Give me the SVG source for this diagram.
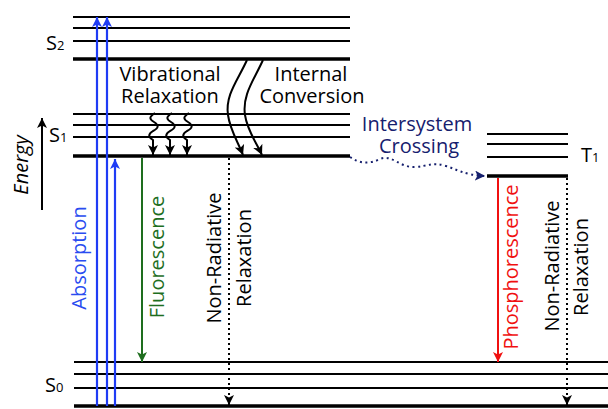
<svg xmlns="http://www.w3.org/2000/svg" width="608" height="409" viewBox="0 0 608 409">
  <style>
    .lvl { stroke: #000; stroke-width: 2; }
    .lvl0 { stroke: #000; stroke-width: 3.5; }
    .t { font-family: "Open Sans", "Liberation Sans", sans-serif; font-size: 20px; fill: #000; }
    .lbl { font-family: "Open Sans", "Liberation Sans", sans-serif; font-size: 20px; fill: #000; }
    .sub { font-size: 13px; }
    .abs { stroke: #1f3cf5; stroke-width: 2.2; fill: none; }
    .fl { stroke: #1e6e1e; stroke-width: 2; fill: none; }
    .ph { stroke: #f01010; stroke-width: 2; fill: none; }
    .nr { stroke: #000; stroke-width: 2; stroke-dasharray: 2 3; fill: none; }
    .wv { stroke: #000; stroke-width: 2; fill: none; }
    .isc { stroke: #16206e; stroke-width: 2; stroke-dasharray: 2 3.5; fill: none; }
  </style>
  <defs>
    <marker id="hBlack" markerUnits="userSpaceOnUse" markerWidth="11" markerHeight="10" refX="10" refY="5" orient="auto">
      <path d="M0,0 L10,5 L0,10 L2.5,5 z" fill="#000"/>
    </marker>
    <marker id="hBlue" markerUnits="userSpaceOnUse" markerWidth="11" markerHeight="10" refX="10" refY="5" orient="auto">
      <path d="M0,0 L10,5 L0,10 L2.5,5 z" fill="#1f3cf5"/>
    </marker>
    <marker id="hGreen" markerUnits="userSpaceOnUse" markerWidth="11" markerHeight="10" refX="10" refY="5" orient="auto">
      <path d="M0,0 L10,5 L0,10 L2.5,5 z" fill="#1e6e1e"/>
    </marker>
    <marker id="hRed" markerUnits="userSpaceOnUse" markerWidth="11" markerHeight="10" refX="10" refY="5" orient="auto">
      <path d="M0,0 L10,5 L0,10 L2.5,5 z" fill="#f01010"/>
    </marker>
    <marker id="hNavy" markerUnits="userSpaceOnUse" markerWidth="11" markerHeight="10" refX="10" refY="5" orient="auto">
      <path d="M0,0 L10,5 L0,10 L2.5,5 z" fill="#16206e"/>
    </marker>
  </defs>

  <rect width="608" height="409" fill="#fff"/>

  <!-- Energy axis -->
  <g id="energy-axis">
    <line x1="42" y1="210" x2="42" y2="118" class="wv" marker-end="url(#hBlack)"/>
    <text class="t" font-style="italic" transform="translate(28,165) rotate(-90)" text-anchor="middle">Energy</text>
  </g>

  <!-- S2 manifold -->
  <g id="S2">
    <line x1="73" y1="17" x2="350" y2="17" class="lvl"/>
    <line x1="73" y1="28" x2="350" y2="28" class="lvl"/>
    <line x1="73" y1="41" x2="350" y2="41" class="lvl"/>
    <line x1="73" y1="59" x2="350" y2="59" class="lvl0"/>
    <text class="lbl" x="46" y="50">S<tspan class="sub">2</tspan></text>
  </g>

  <!-- S1 manifold -->
  <g id="S1">
    <line x1="73" y1="114" x2="350" y2="114" class="lvl"/>
    <line x1="73" y1="125" x2="350" y2="125" class="lvl"/>
    <line x1="73" y1="137" x2="350" y2="137" class="lvl"/>
    <line x1="73" y1="156" x2="350" y2="156" class="lvl0"/>
    <text class="lbl" x="49" y="142">S<tspan class="sub">1</tspan></text>
  </g>

  <!-- T1 manifold -->
  <g id="T1">
    <line x1="487" y1="134" x2="568" y2="134" class="lvl"/>
    <line x1="487" y1="144" x2="568" y2="144" class="lvl"/>
    <line x1="487" y1="157" x2="568" y2="157" class="lvl"/>
    <line x1="487" y1="176" x2="568" y2="176" class="lvl0"/>
    <text class="lbl" x="581" y="162">T<tspan class="sub">1</tspan></text>
  </g>

  <!-- S0 manifold -->
  <g id="S0">
    <line x1="74" y1="362" x2="608" y2="362" class="lvl"/>
    <line x1="74" y1="374" x2="608" y2="374" class="lvl"/>
    <line x1="74" y1="388" x2="608" y2="388" class="lvl"/>
    <line x1="74" y1="406" x2="608" y2="406" class="lvl0"/>
    <text class="lbl" x="45" y="392">S<tspan class="sub">0</tspan></text>
  </g>

  <!-- Transitions -->
  <g id="connectors">
    <!-- absorption -->
    <line x1="97" y1="406" x2="97" y2="17" class="abs" marker-end="url(#hBlue)"/>
    <line x1="107" y1="406" x2="107" y2="17" class="abs" marker-end="url(#hBlue)"/>
    <line x1="115" y1="406" x2="115" y2="159" class="abs" marker-end="url(#hBlue)"/>
    <!-- vibrational relaxation -->
    <path d="M155,113 C149,117 149,119 154,122 C159,125 159,128 153,131 C148,134 148,137 153,140 L153,155" class="wv" marker-end="url(#hBlack)"/>
    <path d="M172,113 C166,117 166,119 171,122 C176,125 176,128 170,131 C165,134 165,137 170,140 L170,155" class="wv" marker-end="url(#hBlack)"/>
    <path d="M189,113 C183,117 183,119 188,122 C193,125 193,128 187,131 C182,134 182,137 187,140 L187,155" class="wv" marker-end="url(#hBlack)"/>
    <!-- internal conversion -->
    <path d="M247,60 C238,80 225,95 228,115 C230,130 238,142 243,155" class="wv" marker-end="url(#hBlack)"/>
    <path d="M263,60 C254,80 242,95 245,115 C247,130 256,142 262,155" class="wv" marker-end="url(#hBlack)"/>
    <!-- intersystem crossing -->
    <path d="M350,157 C360,164 370,164 380,159 C392,154 400,168 415,167 C428,166 433,162 446,166 C456,169 464,175 485,176" class="isc" marker-end="url(#hNavy)"/>
    <!-- fluorescence -->
    <line x1="142" y1="158" x2="142" y2="362" class="fl" marker-end="url(#hGreen)"/>
    <!-- non-radiative from S1 -->
    <line x1="229" y1="158" x2="229" y2="405" class="nr" marker-end="url(#hBlack)"/>
    <!-- phosphorescence -->
    <line x1="498" y1="178" x2="498" y2="362" class="ph" marker-end="url(#hRed)"/>
    <!-- non-radiative from T1 -->
    <line x1="567" y1="178" x2="567" y2="405" class="nr" marker-end="url(#hBlack)"/>
  </g>

  <!-- Process labels -->
  <g id="labels">
    <text class="t" x="170" y="81" text-anchor="middle">Vibrational</text>
    <text class="t" x="170" y="103" text-anchor="middle">Relaxation</text>
    <text class="t" x="311" y="81" text-anchor="middle">Internal</text>
    <text class="t" x="312" y="103" text-anchor="middle">Conversion</text>
    <text class="t" x="417" y="131" text-anchor="middle" fill="#16206e" style="fill:#16206e">Intersystem</text>
    <text class="t" x="419" y="153" text-anchor="middle" style="fill:#16206e">Crossing</text>
    <text class="t" transform="translate(86,258) rotate(-90)" text-anchor="middle" style="fill:#2a4cf0">Absorption</text>
    <text class="t" transform="translate(164,257) rotate(-90)" text-anchor="middle" style="fill:#1e6e1e">Fluorescence</text>
    <text class="t" transform="translate(221,258) rotate(-90)" text-anchor="middle">Non-Radiative</text>
    <text class="t" transform="translate(251,258) rotate(-90)" text-anchor="middle">Relaxation</text>
    <text class="t" transform="translate(518,267) rotate(-90)" text-anchor="middle" style="fill:#f01010">Phosphorescence</text>
    <text class="t" transform="translate(559,266) rotate(-90)" text-anchor="middle">Non-Radiative</text>
    <text class="t" transform="translate(588,267) rotate(-90)" text-anchor="middle">Relaxation</text>
  </g>
</svg>
